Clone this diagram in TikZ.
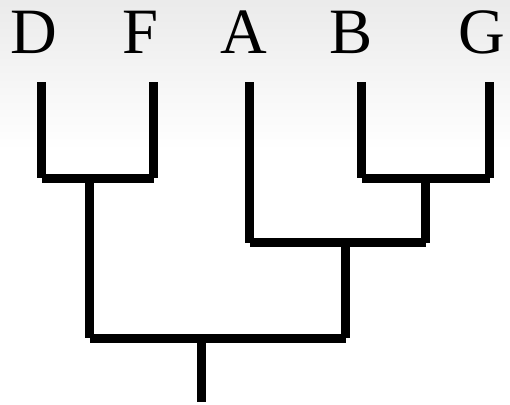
\documentclass[tikz,border=0pt]{standalone}
\usepackage{fontspec}
\setmainfont{Liberation Serif}
\begin{document}
\begin{tikzpicture}[x=0.75pt,y=-0.75pt,
  branch/.style={line width=6.75pt,line cap=butt,black},
  taxon/.style={anchor=base,inner sep=0pt,font=\fontsize{48.5pt}{50pt}\selectfont}]
\useasboundingbox (0,0) rectangle (510,404);
\shade[top color=black!8,bottom color=white] (0,0) rectangle (510,150);
% labels
\node[taxon] (D) at (34,53.3) {D};
\node[taxon] (F) at (140.5,53.3) {F};
\node[taxon] (A) at (243.5,53.3) {A};
\node[taxon] (B) at (351,53.3) {B};
\node[taxon] (G) at (481.7,53.3) {G};
% coordinates
\coordinate (Dt) at (41.5,82);   \coordinate (Db) at (41.5,178.3);
\coordinate (Ft) at (153.5,82);  \coordinate (Fb) at (153.5,178.3);
\coordinate (At) at (249.5,82);  \coordinate (Ab) at (249.5,242.5);
\coordinate (Bt) at (361.5,82);  \coordinate (Bb) at (361.5,178.3);
\coordinate (Gt) at (489.5,82);  \coordinate (Gb) at (489.5,178.3);
\coordinate (DFt) at (89.5,178.3);  \coordinate (DFb) at (89.5,338);
\coordinate (BGt) at (425.5,178.3); \coordinate (BGb) at (425.5,242.5);
\coordinate (ABGt) at (345.5,242.5); \coordinate (ABGb) at (345.5,338);
\coordinate (Rt) at (201.5,338); \coordinate (Rb) at (201.5,402);
% branches
\draw[branch] (Dt) -- (Db);
\draw[branch] (Ft) -- (Fb);
\draw[branch] (Db) -- (Fb);
\draw[branch] (DFt) -- (DFb);
\draw[branch] (Bt) -- (Bb);
\draw[branch] (Gt) -- (Gb);
\draw[branch] (Bb) -- (Gb);
\draw[branch] (BGt) -- (BGb);
\draw[branch] (At) -- (Ab);
\draw[branch] (Ab) -- (BGb);
\draw[branch] (ABGt) -- (ABGb);
\draw[branch] (DFb) -- (ABGb);
\draw[branch] (Rt) -- (Rb);
\end{tikzpicture}
\end{document}
